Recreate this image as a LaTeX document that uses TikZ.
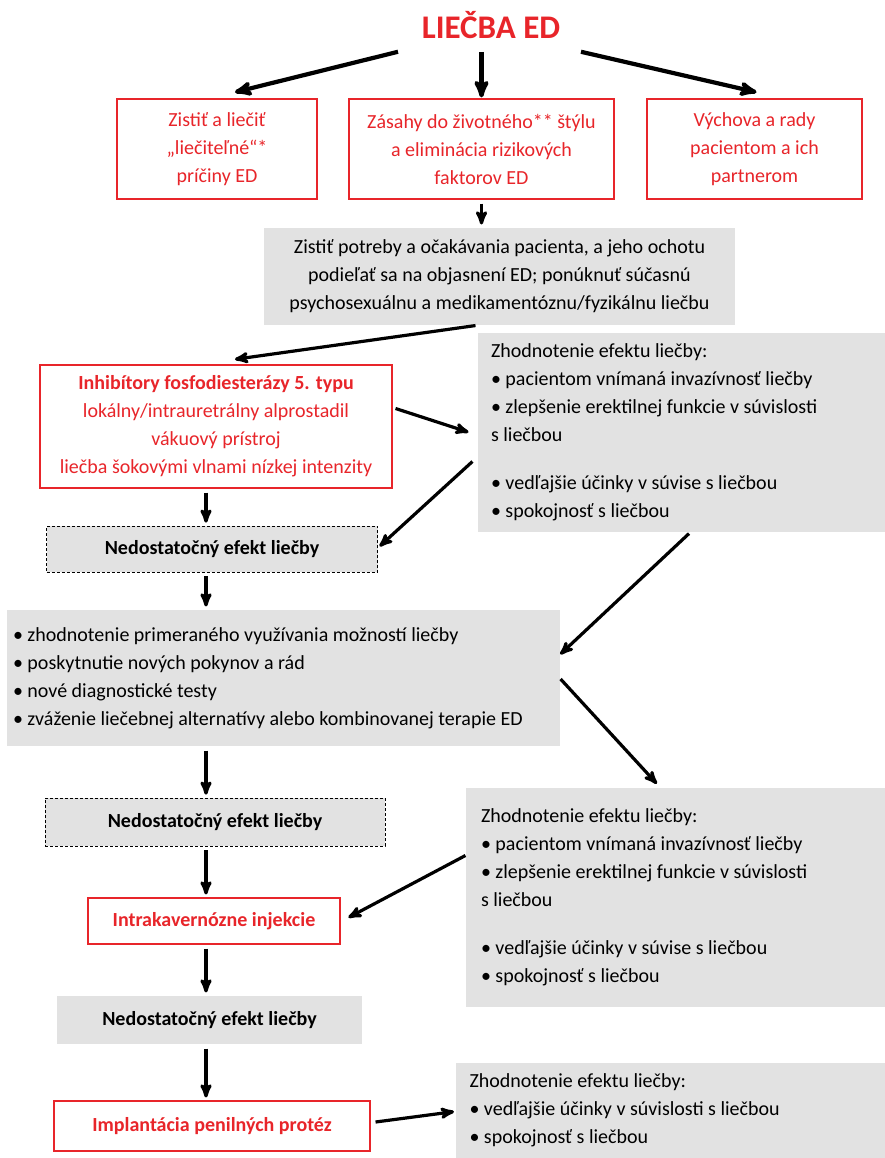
\documentclass[tikz,border=0pt]{standalone}
\usepackage{fontspec}
\setmainfont{Carlito}
\usetikzlibrary{positioning, arrows}
\definecolor{edred}{RGB}{232,37,42}
\definecolor{edgray}{RGB}{226,226,226}

\begin{document}
\begin{tikzpicture}[x=1pt,y=-1pt,->,>=stealth',shorten >=1pt,line width=3.2pt,
        every node/.style={font=\fontsize{20}{28}\selectfont,inner sep=0pt,line width=1.1pt},
        title node/.style={text=edred,font=\fontsize{33}{36}\selectfont\bfseries,anchor=base},
        red node/.style={draw=edred,text=edred,fill=white,align=center},
        gray node/.style={fill=edgray,align=center},
        dash node/.style={gray node,draw=black,densely dashed,line width=0.7pt},
        note node/.style={fill=edgray,align=flush left},
        step arrow/.style={shorten <=4pt,shorten >=3pt}]
        \useasboundingbox (0,0) rectangle (885,1158);

        \node[title node] (0) at (491,39) {LIEČBA ED};
        \node[red node,minimum width=200,minimum height=100] (1) at (217,149) {Zistiť a liečiť\\„liečiteľné“*\\príčiny ED};
        \node[red node,minimum width=265,minimum height=100] (2) at (481.5,149) {Zásahy do životného** štýlu\\a eliminácia rizikových\\faktorov ED};
        \node[red node,minimum width=215,minimum height=100] (3) at (754.5,149) {Výchova a rady\\pacientom a ich\\partnerom};
        \node[gray node,minimum width=471,minimum height=97] (4) at (499.5,276.5) {Zistiť potreby a očakávania pacienta, a jeho ochotu\\podieľať sa na objasnení ED; ponúknuť súčasnú\\psychosexuálnu a medikamentóznu/fyzikálnu liečbu};
        \node[red node,minimum width=352,minimum height=123] (5) at (216,426.5) {\textbf{Inhibítory fosfodiesterázy 5. typu}\\lokálny/intrauretrálny alprostadil\\vákuový prístroj\\liečba šokovými vlnami nízkej intenzity};
        \node[note node,minimum width=407,minimum height=199,text width=381,inner xsep=13pt] (6) at (681.5,432.5) {Zhodnotenie efektu liečby:\\• pacientom vnímaná invazívnosť liečby\\• zlepšenie erektilnej funkcie v súvislosti\\s liečbou\\[20pt]• vedľajšie účinky v súvise s liečbou\\• spokojnosť s liečbou};
        \node[dash node,minimum width=331,minimum height=46] (7) at (212,549) {\textbf{Nedostatočný efekt liečby}};
        \node[note node,minimum width=553,minimum height=136,text width=541,inner xsep=6pt] (8) at (283.5,678) {• zhodnotenie primeraného využívania možností liečby\\• poskytnutie nových pokynov a rád\\• nové diagnostické testy\\• zváženie liečebnej alternatívy alebo kombinovanej terapie ED\\[8pt]};
        \node[dash node,minimum width=340,minimum height=48] (9) at (215,822) {\textbf{Nedostatočný efekt liečby}};
        \node[note node,minimum width=419,minimum height=219,text width=389,inner xsep=15pt] (10) at (675.5,897.5) {Zhodnotenie efektu liečby:\\• pacientom vnímaná invazívnosť liečby\\• zlepšenie erektilnej funkcie v súvislosti\\s liečbou\\[20pt]• vedľajšie účinky v súvise s liečbou\\• spokojnosť s liečbou\\[16pt]};
        \node[red node,minimum width=252,minimum height=46] (11) at (214,921) {\textbf{Intrakavernózne injekcie}};
        \node[gray node,minimum width=305,minimum height=48] (12) at (209.5,1020) {\textbf{Nedostatočný efekt liečby}};
        \node[red node,minimum width=316,minimum height=50] (13) at (212,1126) {\textbf{Implantácia penilných protéz}};
        \node[note node,minimum width=430,minimum height=95,text width=402,inner xsep=14pt] (14) at (670.5,1110.5) {Zhodnotenie efektu liečby:\\• vedľajšie účinky v súvislosti s liečbou\\• spokojnosť s liečbou\\[-6pt]};
        \coordinate (axis) at (206,0);

        \path[line width=4.2pt]
        ([shift={(-93,12)}]0.south) edge ([shift={(17,-6)}]1.north)
        (2.north |- 0.south) edge[shorten <=12pt] (2.north)
        ([shift={(90,12)}]0.south) edge ([shift={(3,-6)}]3.north);

        \path
        (2.south) edge[step arrow] (2.south |- 4.north)
        ([shift={(-24,0)}]4.south) edge ([shift={(18,-5)}]5.north)
        ([shift={(3,-18)}]5.east) edge ([shift={(-8,0)}]6.west)
        ([shift={(-5,29)}]6.west) edge ([shift={(1,-2)}]7.east)
        ([shift={(7.5,1)}]6.south) edge ([shift={(-1,-23)}]8.east)
        ([shift={(0,1)}]8.east) edge ([shift={(-18,-3)}]10.north)
        ([shift={(0,-42)}]10.west) edge ([shift={(7,-3)}]11.east)
        ([shift={(5,-4)}]13.east) edge ([shift={(0,1)}]14.west);

        \path[step arrow]
        (5.south -| axis) edge (7.north -| axis)
        (7.south -| axis) edge (8.north -| axis)
        (8.south -| axis) edge (9.north -| axis)
        (9.south -| axis) edge (11.north -| axis)
        (11.south -| axis) edge (12.north -| axis)
        (12.south -| axis) edge (13.north -| axis);
\end{tikzpicture}
\end{document}
